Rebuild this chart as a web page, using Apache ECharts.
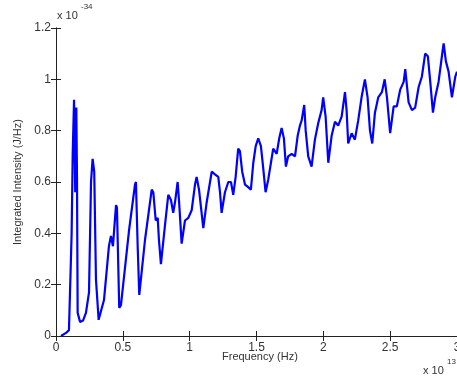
<!DOCTYPE html>
<html><head><meta charset="utf-8">
<script src="https://cdn.jsdelivr.net/npm/echarts@6/dist/echarts.min.js"></script>
<style>html,body{margin:0;padding:0;background:#fff}#c{width:457px;height:380px}</style>
</head><body><div id="c"></div>
<script>
const freq = [0.037,0.075,0.097,0.108,0.117,0.125,0.135,0.144,0.152,0.157,0.162,0.180,0.202,0.224,0.247,0.262,0.274,0.286,0.299,0.319,0.359,0.396,0.411,0.426,0.449,0.456,0.473,0.486,0.546,0.591,0.598,0.611,0.623,0.666,0.716,0.728,0.746,0.761,0.770,0.785,0.815,0.840,0.860,0.877,0.890,0.910,0.920,0.940,0.965,0.990,1.015,1.040,1.052,1.070,1.102,1.127,1.165,1.189,1.214,1.227,1.239,1.264,1.289,1.309,1.326,1.344,1.363,1.376,1.393,1.414,1.438,1.458,1.476,1.494,1.513,1.533,1.551,1.568,1.588,1.608,1.625,1.651,1.670,1.688,1.705,1.720,1.737,1.763,1.788,1.808,1.825,1.838,1.857,1.868,1.887,1.912,1.937,1.962,1.987,1.999,2.017,2.037,2.062,2.087,2.111,2.137,2.162,2.174,2.186,2.212,2.236,2.261,2.286,2.311,2.331,2.349,2.366,2.386,2.411,2.438,2.459,2.476,2.500,2.526,2.550,2.575,2.601,2.613,2.638,2.663,2.687,2.713,2.737,2.762,2.782,2.800,2.820,2.837,2.862,2.887,2.900,2.917,2.937,2.962,2.987,3.0];
const intensity = [0,0.012,0.023,0.03,0.40,0.71,0.92,0.56,0.89,0.62,0.09,0.055,0.06,0.09,0.17,0.60,0.69,0.64,0.22,0.063,0.14,0.35,0.39,0.35,0.51,0.50,0.11,0.12,0.41,0.59,0.60,0.35,0.16,0.375,0.57,0.56,0.45,0.46,0.375,0.28,0.43,0.55,0.53,0.48,0.52,0.60,0.53,0.36,0.45,0.46,0.49,0.59,0.62,0.57,0.42,0.52,0.64,0.63,0.62,0.56,0.48,0.56,0.60,0.60,0.55,0.62,0.73,0.72,0.64,0.59,0.58,0.57,0.675,0.74,0.77,0.74,0.65,0.56,0.61,0.675,0.73,0.71,0.77,0.81,0.77,0.66,0.70,0.71,0.70,0.78,0.82,0.84,0.90,0.80,0.70,0.66,0.765,0.83,0.88,0.93,0.855,0.675,0.78,0.835,0.82,0.855,0.95,0.88,0.75,0.79,0.765,0.84,0.93,1.0,0.93,0.80,0.75,0.87,0.93,0.95,1.0,0.93,0.79,0.895,0.895,0.96,0.99,1.04,0.91,0.88,0.89,0.97,1.01,1.10,1.09,0.99,0.87,0.93,0.99,1.09,1.14,1.07,1.03,0.93,1.01,1.03];
const xTicks = [0,0.5,1,1.5,2,2.5,3];
const yTicks = [0,0.2,0.4,0.6,0.8,1,1.2];

const data = freq.map((f,i)=>[f,intensity[i]]);
const font = 'Liberation Sans, Arial, sans-serif';
const axColor = '#222';
const txt = '#333';
const chart = echarts.init(document.getElementById('c'), null, {renderer:'canvas'});
const baseX = {type:'value', min:0, max:3, interval:0.5,
  axisLine:{show:true, lineStyle:{color:axColor,width:1}},
  axisTick:{show:true, inside:true, length:5, lineStyle:{color:axColor}},
  splitLine:{show:false}};
const baseY = {type:'value', min:0, max:1.2, interval:0.2,
  axisLine:{show:true, lineStyle:{color:axColor,width:1}},
  axisTick:{show:true, inside:true, length:5, lineStyle:{color:axColor}},
  splitLine:{show:false}};
chart.setOption({
  backgroundColor:'#fff',
  animation:false,
  grid:{left:56, top:28, right:0, bottom:44, containLabel:false, outerBoundsMode:'none'},
  xAxis:[
    Object.assign({}, baseX, {position:'bottom',
      axisLabel:{show:true, margin:6, color:txt, fontFamily:font, fontSize:12,
        formatter:v=>String(v)}}),
    Object.assign({}, baseX, {position:'top', axisLabel:{show:false}})
  ],
  yAxis:[
    Object.assign({}, baseY, {position:'left',
      name:'Integrated Intensity (J/Hz)', nameLocation:'middle', nameGap:32,
      nameTextStyle:{color:txt, fontFamily:font, fontSize:11},
      axisLabel:{show:true, margin:5, color:txt, fontFamily:font, fontSize:12,
        formatter:v=>String(Math.round(v*10)/10)}}),
    Object.assign({}, baseY, {position:'right', axisLabel:{show:false}})
  ],
  graphic:[
    {type:'text', left:222, top:351, style:{text:'Frequency (Hz)', fill:txt, font:'11px '+font}},
    {type:'text', left:57, top:10, style:{text:'x 10', fill:txt, font:'11px '+font}},
    {type:'text', left:81, top:3, style:{text:'-34', fill:txt, font:'8px '+font}},
    {type:'text', left:423, top:365, style:{text:'x 10', fill:txt, font:'11px '+font}},
    {type:'text', left:447, top:358, style:{text:'13', fill:txt, font:'8px '+font}}
  ],
  series:[{type:'line', xAxisIndex:0, yAxisIndex:0, data:data, showSymbol:false,
    lineStyle:{color:'#0000ff', width:2.2}, clip:true}]
});
</script></body></html>
